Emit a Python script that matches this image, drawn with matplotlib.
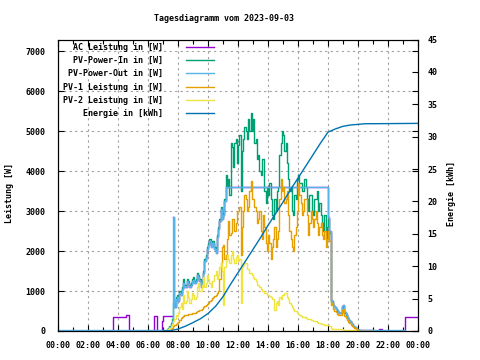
import numpy as np
import matplotlib
matplotlib.use("Agg")
import matplotlib.pyplot as plt
from matplotlib.ticker import MultipleLocator

plt.rcParams['font.family'] = 'DejaVu Sans Mono'
plt.rcParams['font.size'] = 6
plt.rcParams['font.weight'] = 'bold'

# --- data (W, 5-minute steps from 07:00 to 21:00, one row per hour) ---
t_day = np.arange(7 * 60, 21 * 60 + 1, 5) / 60.0

pv_in = [0, 10, 30, 50, 80, 120, 200, 300, 700, 600, 850, 900,
         800, 1000, 950, 1100, 1300, 1150, 1150, 1300, 1250, 1150, 1200, 1300,
         1350, 1250, 1300, 1450, 1400, 1300, 1150, 1250, 1500, 1800, 1900, 2100,
         2200, 2300, 2150, 2250, 2250, 2100, 2000, 2400, 2600, 2800, 3100, 2850,
         2950, 3300, 3900, 3600, 3800, 3400, 4700, 4600, 4100, 4700, 4800, 4200,
         4650, 4900, 3500, 4500, 4800, 5100, 5000, 4800, 5300, 5000, 5450, 5000,
         5300, 4700, 4800, 4300, 4400, 4000, 3900, 4300, 4300, 3500, 3200, 3600,
         3400, 3700, 3300, 2900, 2800, 3300, 3000, 3500, 3600, 4400, 4700, 5000,
         4900, 4500, 4700, 4200, 3800, 3500, 3600, 3000, 2900, 3400, 3300, 3800,
         3900, 3700, 3700, 3500, 3500, 3800, 3600, 3300, 3000, 3400, 3400, 3000,
         2900, 3300, 3300, 3500, 3000, 3200, 2900, 2700, 2500, 2900, 2300, 2600,
         2800, 2450, 720, 750, 650, 600, 550, 500, 480, 450, 450, 600,
         620, 450, 400, 340, 290, 240, 200, 160, 120, 90, 60, 40,
         25, 15, 10, 5, 0, 0, 0, 0, 0, 0, 0, 0,
         0]

pv_out = [20, 20, 30, 40, 60, 100, 150, 250, 2850, 600, 800, 850,
          750, 950, 900, 1050, 1200, 1100, 1100, 1250, 1200, 1100, 1150, 1250,
          1280, 1200, 1250, 1400, 1350, 1250, 1100, 1200, 1450, 1750, 1850, 2050,
          2150, 2250, 2100, 2200, 2200, 2050, 1950, 2350, 2550, 2750, 3050, 2800,
          2900, 3250, 3600, 3600, 3600, 3600, 3600, 3600, 3600, 3600, 3600, 3600,
          3600, 3600, 3600, 3600, 3600, 3600, 3600, 3600, 3600, 3600, 3600, 3600,
          3600, 3600, 3600, 3600, 3600, 3600, 3600, 3600, 3600, 3600, 3600, 3600,
          3600, 3600, 3600, 3600, 3600, 3600, 3600, 3600, 3600, 3600, 3600, 3600,
          3600, 3600, 3600, 3600, 3600, 3600, 3600, 3600, 3600, 3600, 3600, 3600,
          3600, 3600, 3600, 3600, 3600, 3600, 3600, 3600, 3600, 3600, 3600, 3600,
          3600, 3600, 3600, 3600, 3600, 3600, 3600, 3600, 3600, 3600, 3600, 3600,
          2850, 2500, 780, 720, 650, 600, 560, 520, 480, 450, 460, 620,
          650, 480, 420, 350, 300, 250, 210, 170, 130, 100, 70, 50,
          35, 25, 20, 20, 20, 20, 20, 20, 20, 20, 20, 20,
          20]

pv1 = [0, 0, 0, 10, 20, 30, 50, 80, 120, 150, 180, 200,
       220, 280, 320, 350, 380, 390, 400, 410, 420, 420, 430, 440,
       450, 460, 480, 490, 500, 520, 530, 560, 600, 630, 660, 680,
       700, 740, 780, 820, 850, 870, 900, 950, 1000, 1300, 1700, 2100,
       2150, 1800, 1900, 2300, 2750, 2400, 2450, 2800, 2800, 2500, 2700, 3000,
       3000, 3100, 1900, 2600, 3000, 3400, 3300, 3000, 3100, 3500, 3750, 3300,
       3300, 3100, 3000, 2700, 2800, 3000, 2500, 2300, 2900, 2600, 2200, 2000,
       2400, 2200, 1800, 2100, 2300, 2600, 2100, 2300, 2500, 3300, 3800, 3500,
       3600, 3200, 3300, 3500, 2900, 2500, 2300, 2100, 2000, 2400, 2600, 3000,
       3700, 3400, 3200, 2900, 3000, 3300, 3300, 2900, 2400, 2700, 3000, 2800,
       2600, 2800, 3000, 2700, 2400, 2600, 2700, 2400, 2300, 2500, 2100, 2300,
       2500, 2250, 650, 700, 550, 500, 480, 420, 400, 390, 400, 520,
       540, 380, 330, 280, 230, 190, 160, 130, 100, 70, 50, 30,
       20, 10, 5, 0, 0, 0, 0, 0, 0, 0, 0, 0,
       0]

pv2 = [0, 5, 10, 30, 50, 80, 120, 180, 250, 300, 400, 380,
       450, 600, 700, 550, 900, 700, 750, 1000, 850, 700, 800, 950,
       900, 800, 850, 1100, 1200, 1000, 1000, 1150, 1350, 1100, 1200, 1400,
       1300, 1200, 1100, 1250, 1250, 1400, 1500, 1300, 1400, 1600, 1700, 1500,
       650, 1600, 1750, 1900, 1800, 1700, 1900, 2000, 1800, 1700, 1850, 1900,
       1750, 1800, 700, 1600, 1650, 1700, 1700, 1550, 1550, 1450, 1450, 1400,
       1350, 1300, 1250, 1150, 1150, 1100, 1050, 1000, 1000, 950, 950, 900,
       900, 880, 850, 800, 800, 520, 700, 750, 650, 850, 800, 900,
       900, 950, 950, 850, 800, 700, 650, 600, 550, 500, 500, 450,
       420, 400, 380, 360, 350, 340, 320, 300, 300, 290, 280, 270,
       260, 250, 240, 220, 200, 190, 180, 170, 170, 160, 160, 150,
       150, 130, 80, 60, 50, 50, 45, 45, 40, 40, 40, 40,
       35, 35, 30, 30, 25, 25, 20, 20, 15, 15, 10, 10,
       5, 5, 0, 0, 0, 0, 0, 0, 0, 0, 0, 0,
       0]

# AC power outside the production hours (during the day it equals PV-Power-Out)
ac_night_t = [0.0, 3.65, 4.55, 4.7, 6.42, 6.58, 6.95, 7.0, 7.6]
ac_night_w = [0, 360, 390, 0, 370, 0, 250, 380, 380]
ac_late_t = [20.5, 21.4, 21.6, 23.15, 24.0]
ac_late_w = [0, 40, 0, 360, 360]

pvout_night_t = [0.0, 7.0]
pvout_night_w = [25, 25]
pvout_late_t = [21.0, 23.1]
pvout_late_w = [20, 20]

# energy in kWh
en_t = [7.0, 7.5, 8.0, 8.5, 9.0, 9.5, 10.0, 10.5, 11.0, 11.5, 12.0, 12.5,
        13.0, 13.5, 14.0, 14.5, 15.0, 15.5, 16.0, 16.5, 17.0, 17.5, 18.0,
        18.5, 19.0, 19.5, 20.0, 20.5, 21.0, 24.0]
energy = [0, 0.05, 0.3, 0.75, 1.3, 1.9, 2.7, 3.8, 5.3, 7.2, 9.0, 10.8,
          12.6, 14.4, 16.3, 18.1, 19.9, 21.8, 23.6, 25.4, 27.2, 29.0, 30.7,
          31.2, 31.6, 31.8, 31.9, 32.0, 32.0, 32.05]

hours = list(range(0, 25, 2))
hour_labels = ['%02d:00' % (h % 24) for h in hours]

c_ac = '#9400d3'
c_in = '#009e73'
c_out = '#56b4e9'
c_pv1 = '#e69f00'
c_pv2 = '#f0e442'
c_en = '#0072b2'

fig = plt.figure(figsize=(4.8, 3.6), dpi=100)
ax = fig.add_axes([58 / 480, 29 / 360, 360 / 480, 291.5 / 360])
ax2 = ax.twinx()

lw = 1.0
l_ac, = ax.plot(ac_night_t, ac_night_w, color=c_ac, lw=lw, drawstyle='steps-post')
ax.plot(t_day[8:], pv_out[8:], color=c_ac, lw=lw, drawstyle='steps-post')
ax.plot(ac_late_t, ac_late_w, color=c_ac, lw=lw, drawstyle='steps-post')
l_in, = ax.plot(t_day, pv_in, color=c_in, lw=lw, drawstyle='steps-post')
l_out, = ax.plot(t_day, pv_out, color=c_out, lw=lw, drawstyle='steps-post')
ax.plot(pvout_night_t, pvout_night_w, color=c_out, lw=lw)
ax.plot(pvout_late_t, pvout_late_w, color=c_out, lw=lw)
l_pv1, = ax.plot(t_day, pv1, color=c_pv1, lw=lw, drawstyle='steps-post')
l_pv2, = ax.plot(t_day, pv2, color=c_pv2, lw=lw, drawstyle='steps-post')
l_en, = ax2.plot(en_t, energy, color=c_en, lw=lw)

ax.set_xlim(0, 24)
ax.set_ylim(0, 7290)
ax2.set_ylim(0, 45)

ax.set_xticks(hours)
ax.set_xticklabels(hour_labels)
ax.xaxis.set_minor_locator(MultipleLocator(1))
ax.set_yticks(range(0, 8000, 1000))
ax2.set_yticks(range(0, 50, 5))

ax.grid(True, which='major', color='#a0a0a0', linestyle=(0, (2, 3)), linewidth=0.8)
ax.tick_params(which='both', direction='in', top=True, right=True, width=0.8)
ax.tick_params(which='major', length=4)
ax.tick_params(which='minor', length=3)
ax.tick_params(axis='y', pad=9)
ax.tick_params(axis='x', pad=7)
ax2.tick_params(direction='in', length=4, width=0.8, pad=7)
for a in (ax, ax2):
    for s in a.spines.values():
        s.set_linewidth(0.8)

fig.text(223.5 / 480, 1 - 18.5 / 360, 'Tagesdiagramm vom 2023-09-03', ha='center', va='center')
fig.text(10 / 480, 1 - 193 / 360, 'Leistung [W]', rotation=90, ha='center', va='center')
fig.text(452 / 480, 1 - 194 / 360, 'Energie [kWh]', rotation=90, ha='center', va='center')

handles = [l_ac, l_in, l_out, l_pv1, l_pv2, l_en]
labels = ['AC Leistung in [W]', 'PV-Power-In in [W]', 'PV-Power-Out in [W]',
          'PV-1 Leistung in [W]', 'PV-2 Leistung in [W]', 'Energie in [kWh]']
ax2.legend(handles, labels, loc='upper left', bbox_to_anchor=(63 / 480, 1 - 43 / 360),
           bbox_transform=fig.transFigure, markerfirst=False, frameon=False,
           handlelength=3.4, handletextpad=2.7, labelspacing=0.5,
           borderpad=0, borderaxespad=0)

fig.savefig('out.png', dpi=100)
